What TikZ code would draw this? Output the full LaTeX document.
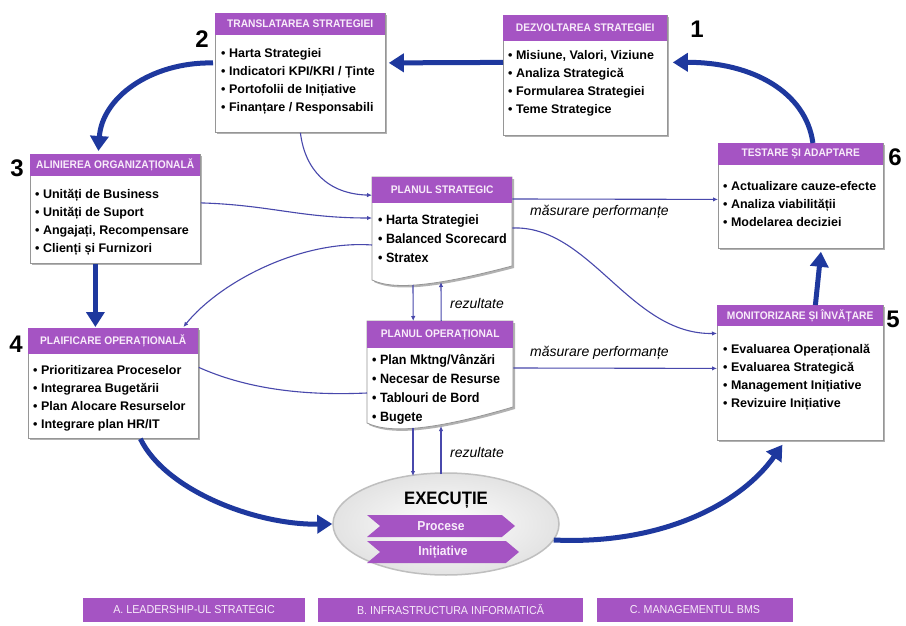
\documentclass[tikz,border=0pt]{standalone}
\usepackage{fontspec}
\setmainfont{Liberation Sans}
\newfontfamily\narw[FakeStretch=0.93]{Liberation Sans}
\usetikzlibrary{arrows.meta,shapes.symbols,shapes.geometric,shadows,calc}
\definecolor{hdrc}{RGB}{165,84,195}
\definecolor{hdrtxt}{RGB}{248,236,250}
\definecolor{bigblue}{RGB}{30,56,158}
\definecolor{thinc}{RGB}{72,72,172}
\definecolor{framec}{RGB}{150,150,150}
\begin{document}
\begin{tikzpicture}[x=1pt,y=-1pt,
  box/.style={draw=framec, fill=white, line width=0.8pt, inner sep=0pt, anchor=north west,
    drop shadow={shadow xshift=2pt,shadow yshift=-2pt,fill=black,opacity=0.3}},
  hdr/.style={fill=hdrc, inner sep=0pt, anchor=north west, text=hdrtxt,
    font=\narw\bfseries\fontsize{11}{13}\selectfont},
  bodytxt/.style={anchor=north west, align=left, inner sep=0pt,
    font=\bfseries\fontsize{12.5}{18}\selectfont},
  bodybig/.style={anchor=north west, align=left, inner sep=0pt,
    font=\narw\bfseries\fontsize{13.5}{19}\selectfont},
  num/.style={inner sep=0pt, font=\bfseries\fontsize{24}{26}\selectfont},
  lbl/.style={inner sep=0pt, anchor=west, font=\itshape\fontsize{14}{16}\selectfont},
  big/.style={draw=bigblue, line width=5pt, -{Triangle[length=15pt,width=18pt]}},
  thinarr/.style={draw=thinc, line width=1.1pt, -{Latex[length=5pt,width=4.5pt]}},
  thinline/.style={draw=thinc, line width=1.1pt},
  chev/.style={shape=signal, signal from=west, signal to=east, signal pointer angle=80,
    fill=hdrc, text=hdrtxt, minimum height=22pt, inner sep=0pt,
    font=\narw\bfseries\fontsize{13}{15}\selectfont},
  barbox/.style={fill=hdrc, text=hdrtxt, minimum height=24pt, inner sep=0pt,
    font=\narw\fontsize{11.5}{13}\selectfont},
  docshape/.style={draw=framec, fill=white, line width=0.8pt,
    drop shadow={shadow xshift=2pt,shadow yshift=-2pt,fill=black,opacity=0.3}}
]
\fill[white] (0,0) rectangle (906,626);
\useasboundingbox (0,0) rectangle (906,626);

% ---------- 2 Translatarea
\node[box, minimum width=170pt, minimum height=119pt] (trans) at (215,13) {};
\node[hdr, minimum width=170pt, minimum height=22pt] (transh) at (trans.north west) {TRANSLATAREA STRATEGIEI};
\node[bodytxt] (transt) at (221,44) {\rule{0pt}{13pt}• Harta Strategiei\\• Indicatori KPI/KRI / Ținte\\• Portofolii de Inițiative\\• Finanțare / Responsabili};
\node[num] (n2) at (202,39) {2};

% ---------- 1 Dezvoltarea
\node[box, minimum width=164pt, minimum height=120pt] (dezv) at (503,15) {};
\node[hdr, minimum width=164pt, minimum height=26pt] (dezvh) at (dezv.north west) {DEZVOLTAREA STRATEGIEI};
\node[bodytxt] (dezvt) at (508,46) {\rule{0pt}{13pt}• Misiune, Valori, Viziune\\• Analiza Strategică\\• Formularea Strategiei\\• Teme Strategice};
\node[num] (n1) at (697,29) {1};

% ---------- 3 Alinierea
\node[box, minimum width=170pt, minimum height=109pt] (align) at (30,154) {};
\node[hdr, minimum width=170pt, minimum height=22pt] (alignh) at (align.north west) {ALINIEREA ORGANIZAȚIONALĂ};
\node[bodytxt] (alignt) at (35,185) {\rule{0pt}{13pt}• Unități de Business\\• Unități de Suport\\• Angajați, Recompensare\\• Clienți și Furnizori};
\node[num] (n3) at (17,168) {3};

% ---------- 6 Testare
\node[box, minimum width=165pt, minimum height=105pt] (test) at (718,143) {};
\node[hdr, minimum width=165pt, minimum height=22pt] (testh) at (test.north west) {TESTARE ȘI ADAPTARE};
\node[bodytxt] (testt) at (723,177) {\rule{0pt}{13pt}• Actualizare cauze-efecte\\• Analiza viabilității\\• Modelarea deciziei};
\node[num] (n6) at (895,157) {6};

% ---------- 4 Planificare
\node[box, minimum width=170pt, minimum height=110pt] (plan) at (28,328) {};
\node[hdr, minimum width=170pt, minimum height=26pt] (planh) at (plan.north west) {PLAIFICARE OPERAȚIONALĂ};
\node[bodytxt] (plant) at (33,361) {\rule{0pt}{13pt}• Prioritizarea Proceselor\\• Integrarea Bugetării\\• Plan Alocare Resurselor\\• Integrare plan HR/IT};
\node[num] (n4) at (16,344) {4};

% ---------- 5 Monitorizare
\node[box, minimum width=166pt, minimum height=135pt] (monit) at (717,305) {};
\node[hdr, minimum width=166pt, minimum height=21pt] (monith) at (monit.north west) {MONITORIZARE ȘI ÎNVĂȚARE};
\node[bodytxt] (monitt) at (723,340) {\rule{0pt}{13pt}• Evaluarea Operațională\\• Evaluarea Strategică\\• Management Inițiative\\• Revizuire Inițiative};
\node[num] (n5) at (893,319) {5};

% ---------- Planul strategic (document shape)
\path[docshape] (372,177) -- (512,177) -- (512,266) .. controls (440,285) and (395,291) .. (372,280) -- cycle;
\node[inner sep=0pt, minimum width=140pt, minimum height=103pt, anchor=north west] (ps) at (372,177) {};
\node[hdr, minimum width=140pt, minimum height=26pt] (psh) at (ps.north west) {PLANUL STRATEGIC};
\node[bodybig] (pst) at (378,210) {\rule{0pt}{14pt}• Harta Strategiei\\• Balanced Scorecard\\• Stratex};
\coordinate (psb1) at (413,285);
\coordinate (psb2) at (441,282);

% ---------- Planul operational
\path[docshape] (367,321) -- (513,321) -- (513,407) .. controls (435,430) and (390,434) .. (367,423) -- cycle;
\node[inner sep=0pt, minimum width=146pt, minimum height=102pt, anchor=north west] (po) at (367,321) {};
\node[hdr, minimum width=146pt, minimum height=27pt] (poh) at (po.north west) {PLANUL OPERAȚIONAL};
\node[bodybig] (pot) at (372,350) {\rule{0pt}{14pt}• Plan Mktng/Vânzări\\• Necesar de Resurse\\• Tablouri de Bord\\• Bugete};
\coordinate (pob1) at (413,428);
\coordinate (pob2) at (441,426);

% ---------- Executie
\node[ellipse, draw=gray!50, line width=1.5pt, inner color=white, outer color=gray!22,
      minimum width=226pt, minimum height=102pt] (exec) at (446,524) {};
\node[inner sep=0pt, font=\narw\bfseries\fontsize{18}{20}\selectfont] (exect) at (446,500) {EXECUȚIE};
\node[chev, minimum width=148pt] (proc) at (441,526) {Procese};
\node[chev, minimum width=152pt] (init) at (443,552) {Inițiative};
\coordinate (ex1) at (413,476);
\coordinate (ex2) at (441,474);

% ---------- bottom bars
\node[barbox, minimum width=222pt] (bara) at (194,610) {A. LEADERSHIP-UL STRATEGIC};
\node[barbox, minimum width=265pt] (barb) at (450.5,610) {B. INFRASTRUCTURA INFORMATICĂ};
\node[barbox, minimum width=196pt] (barc) at (695,610) {C. MANAGEMENTUL BMS};

% ---------- big cycle arrows
\draw[big] ([xshift=12pt]test.north) .. controls (806,92) and (752,62) .. ([xshift=5pt,yshift=13pt]dezv.east);
\draw[big] ([yshift=13pt]dezv.west) -- ([xshift=3pt,yshift=10pt]trans.east);
\draw[big] ([xshift=-2pt,yshift=10pt]trans.west) .. controls (150,62) and (102,98) .. ([xshift=-17pt,yshift=3pt]align.north);
\draw[big] ([xshift=-20pt]align.south) -- ([xshift=-18pt,yshift=1pt]plan.north);
\draw[big] ([xshift=27pt]plan.south) .. controls (165,490) and (255,525) .. (exec.west);
\draw[big] ([xshift=-6pt,yshift=-16pt]exec.east) .. controls (660,545) and (740,505) .. ([xshift=-18pt,yshift=-4pt]monit.south);
\draw[big] ([xshift=15pt]monit.north) -- ([xshift=20pt,yshift=-3pt]test.south);

% ---------- thin connectors
\draw[thinarr] (trans.south) .. controls (305,170) and (328,194) .. ([yshift=-5pt]psh.west);
\draw[thinarr] ([yshift=6pt]align.east) .. controls (270,205) and (300,218) .. ([yshift=-41pt]ps.north west);
\draw[thinarr] ([yshift=-68pt]ps.north west) .. controls (300,240) and (220,282) .. ([xshift=70pt,yshift=1pt]plan.north);
\draw[thinline] ([yshift=16pt]plan.east) .. controls (245,388) and (300,396) .. ([yshift=-72pt]po.north west);
\draw[thinarr] ([yshift=-22pt]ps.north east) -- ([yshift=-3.5pt]test.west);
\draw[thinarr] ([yshift=-51pt]ps.north east) .. controls (590,225) and (630,335) .. ([yshift=39.5pt]monit.west);
\draw[thinarr] ([yshift=-47pt]po.north east) -- ([yshift=4.5pt]monit.west);
\draw[thinarr] (psb1) -- ([xshift=-27pt]po.north);
\draw[thinarr] ([xshift=1pt]po.north) -- (psb2);
\draw[thinarr] (pob1) -- (ex1);
\draw[thinarr] (ex2) -- (pob2);

% ---------- labels
\node[lbl] (m1) at (530,212) {măsurare performanțe};
\node[lbl] (m2) at (530,353) {măsurare performanțe};
\node[lbl] (r1) at (450,303) {rezultate};
\node[lbl] (r2) at (450,452) {rezultate};
\end{tikzpicture}
\end{document}
